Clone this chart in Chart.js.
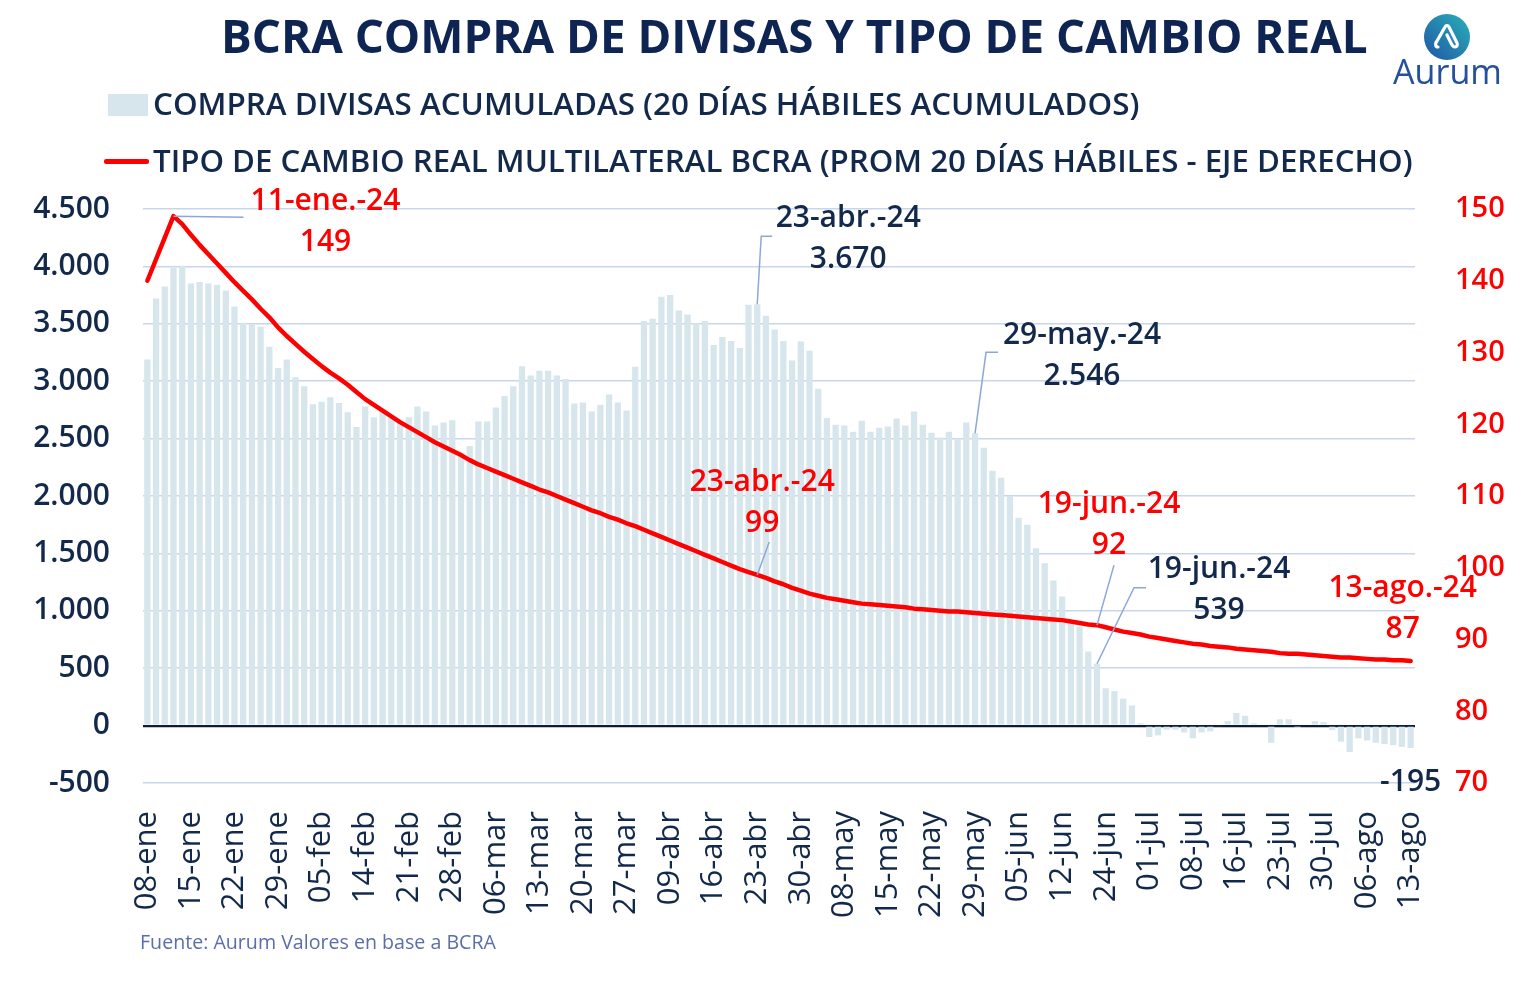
<!DOCTYPE html>
<html><head><meta charset="utf-8">
<script src="https://cdn.jsdelivr.net/npm/chart.js@4.4.1/dist/chart.umd.min.js"></script>
<style>
html,body{margin:0;padding:0;background:#fff;width:1528px;height:998px;overflow:hidden;}
#wrap{position:relative;width:1528px;height:998px;font-family:'Open Sans',sans-serif;}
#c{position:absolute;left:0;top:0;}
.t{position:absolute;white-space:nowrap;line-height:1;}
#title{color:#0e2452;font-weight:700;}
.leg{color:#13294b;font-weight:600;}
#foot{color:#5b6ea8;font-weight:400;}
#sw1{position:absolute;left:108px;top:94px;width:40px;height:22px;background:#d6e6ec;}
#sw2{position:absolute;left:104px;top:159px;width:45px;height:5px;background:#ff0000;border-radius:2px;}
#logoTxt{color:#24509e;font-weight:500;}
#logo{position:absolute;left:1424px;top:14px;}
</style></head>
<body><div id="wrap">
<canvas id="c" width="1528" height="998"></canvas>
<div class="t" id="title">BCRA COMPRA DE DIVISAS Y TIPO DE CAMBIO REAL</div>
<div id="sw1"></div>
<div class="t leg" id="leg1">COMPRA DIVISAS ACUMULADAS (20 DÍAS HÁBILES ACUMULADOS)</div>
<div id="sw2"></div>
<div class="t leg" id="leg2">TIPO DE CAMBIO REAL MULTILATERAL BCRA (PROM 20 DÍAS HÁBILES - EJE DERECHO)</div>
<div class="t" id="foot">Fuente: Aurum Valores en base a BCRA</div>
<svg id="logo" width="46" height="46" viewBox="0 0 46 46">
 <defs><linearGradient id="g" x1="1" y1="0" x2="0" y2="1"><stop offset="0" stop-color="#2bb0b8"/><stop offset="1" stop-color="#1f56a6"/></linearGradient></defs>
 <circle cx="23" cy="23" r="23" fill="url(#g)"/>
 <path d="M14 33 C11 33 11 29 13 27 L21 13 C22 11 24 11 25 13 L33 29 C34 31 33 33 31 33 C29 33 28 31 27 29 L23 21" fill="none" stroke="#fff" stroke-width="3.2" stroke-linecap="round" stroke-linejoin="round"/>
</svg>
<div class="t" id="logoTxt">Aurum</div>
</div>
<script>
// ---------------- DATA ----------------
const categories = [
'08-ene','09-ene','10-ene','11-ene','12-ene','15-ene','16-ene','17-ene','18-ene','19-ene',
'22-ene','23-ene','24-ene','25-ene','26-ene','29-ene','30-ene','31-ene','01-feb','02-feb',
'05-feb','06-feb','07-feb','08-feb','09-feb','14-feb','15-feb','16-feb','19-feb','20-feb',
'21-feb','22-feb','23-feb','26-feb','27-feb','28-feb','29-feb','01-mar','04-mar','05-mar',
'06-mar','07-mar','08-mar','11-mar','12-mar','13-mar','14-mar','15-mar','18-mar','19-mar',
'20-mar','21-mar','22-mar','25-mar','26-mar','27-mar','03-abr','04-abr','05-abr','08-abr',
'09-abr','10-abr','11-abr','12-abr','15-abr','16-abr','17-abr','18-abr','19-abr','22-abr',
'23-abr','24-abr','25-abr','26-abr','29-abr','30-abr','02-may','03-may','06-may','07-may',
'08-may','09-may','10-may','13-may','14-may','15-may','16-may','17-may','20-may','21-may',
'22-may','23-may','24-may','27-may','28-may','29-may','30-may','31-may','03-jun','04-jun',
'05-jun','06-jun','07-jun','10-jun','11-jun','12-jun','13-jun','14-jun','18-jun','19-jun',
'24-jun','25-jun','26-jun','27-jun','28-jun','01-jul','02-jul','03-jul','04-jul','05-jul',
'08-jul','10-jul','11-jul','12-jul','15-jul','16-jul','17-jul','18-jul','19-jul','22-jul',
'23-jul','24-jul','25-jul','26-jul','29-jul','30-jul','31-jul','01-ago','02-ago','05-ago',
'06-ago','07-ago','08-ago','09-ago','12-ago','13-ago'];

const tickLabels = ['08-ene','15-ene','22-ene','29-ene','05-feb','14-feb','21-feb','28-feb',
'06-mar','13-mar','20-mar','27-mar','09-abr','16-abr','23-abr','30-abr','08-may','15-may',
'22-may','29-may','05-jun','12-jun','24-jun','01-jul','08-jul','16-jul','23-jul','30-jul',
'06-ago','13-ago'];

const compraDivisas = [
3190,3720,3825,3985,4005,3850,3865,3850,3840,3790,
3650,3510,3495,3475,3300,3115,3190,3035,2955,2800,
2820,2860,2810,2730,2600,2780,2685,2735,2680,2650,
2685,2780,2735,2615,2640,2660,2380,2435,2650,2650,
2770,2870,2955,3130,3050,3090,3090,3050,3020,2805,
2815,2735,2795,2885,2815,2745,3125,3525,3545,3735,
3750,3615,3580,3505,3525,3315,3385,3350,3290,3665,
3670,3570,3450,3350,3180,3345,3265,2935,2680,2620,
2615,2560,2655,2560,2595,2605,2675,2615,2735,2620,
2550,2510,2560,2500,2640,2546,2420,2220,2160,2000,
1810,1750,1545,1415,1265,1125,920,860,645,539,
325,300,235,175,20,-100,-85,-35,-35,-60,
-110,-60,-50,-10,40,110,85,20,10,-150,
55,55,-20,10,40,30,-40,-140,-230,-110,
-130,-150,-160,-170,-185,-195];

const tcrm = [
140,143,146,149,147.9,146.4,145,143.7,142.4,141.1,
139.8,138.6,137.4,136.1,134.9,133.5,132.3,131.2,130.1,129.1,
128.1,127.2,126.4,125.5,124.5,123.5,122.7,121.9,121.1,120.3,
119.6,118.9,118.2,117.5,116.9,116.3,115.7,115.0,114.4,113.9,
113.4,112.9,112.4,111.9,111.4,110.9,110.5,110.0,109.5,109.0,
108.5,108.0,107.6,107.1,106.7,106.2,105.8,105.3,104.8,104.3,
103.8,103.3,102.8,102.3,101.8,101.3,100.8,100.3,99.8,99.4,
99.0,98.6,98.1,97.7,97.2,96.8,96.4,96.1,95.8,95.6,
95.4,95.2,95.0,94.9,94.8,94.7,94.6,94.5,94.3,94.2,
94.1,94.0,93.9,93.9,93.8,93.7,93.6,93.5,93.4,93.3,
93.2,93.1,93.0,92.9,92.8,92.7,92.5,92.3,92.1,92.0,
91.7,91.4,91.1,90.9,90.7,90.4,90.2,90.0,89.8,89.6,
89.4,89.3,89.1,89.0,88.9,88.7,88.6,88.5,88.4,88.3,
88.1,88.0,88.0,87.9,87.8,87.7,87.6,87.5,87.5,87.4,
87.3,87.2,87.2,87.1,87.1,87.0];

const leftTicks = {min:-500, max:4500, step:500};
const rightTicks = {min:70, max:150, step:10};

// annotations: which series/point, text lines
const notes = [
 {ds:1, idx:3,   lines:['11-ene.-24','149'],  red:true,  dx:152, dy:-17, leader:[[0,0],[70,1]]},
 {ds:0, idx:70,  lines:['23-abr.-24','3.670'], red:false, dx:91,  dy:-88, leader:[[0,0],[4,-68],[15,-68]]},
 {ds:0, idx:95,  lines:['29-may.-24','2.546'], red:false, dx:107, dy:-100,leader:[[0,0],[11,-81],[23,-81]]},
 {ds:1, idx:70,  lines:['23-abr.-24','99'],   red:true,  dx:5,   dy:-95, leader:[[0,0],[12,-33]]},
 {ds:1, idx:109, lines:['19-jun.-24','92'],   red:true,  dx:12,  dy:-123,leader:[[0,0],[17,-60]]},
 {ds:0, idx:109, lines:['19-jun.-24','539'],  red:false, dx:122, dy:-97, leader:[[0,0],[37,-76],[49,-76]]},
 {ds:1, idx:145, lines:['13-ago.-24','87'],   red:true,  dx:-8,  dy:-75, leader:null},
 {ds:0, idx:145, lines:['-195'],              red:false, dx:0,   dy:32,  leader:null}
];

// ---------------- STYLE ----------------
const NAVY = '#13294b', RED = '#ff0000', BARC = '#d6e6ec', GRID = '#c8d6ec';
const FONT = "'Open Sans', sans-serif";
const fmt = v => String(Math.abs(v)).replace(/\B(?=(\d{3})+(?!\d))/g, '.');
const fmtNum = v => (v < 0 ? '-' : '') + fmt(v);

const notePlugin = {
  id: 'notes',
  afterDatasetsDraw(chart) {
    const ctx = chart.ctx;
    ctx.save();
    notes.forEach(n => {
      const el = chart.getDatasetMeta(n.ds).data[n.idx];
      const px = el.x, py = el.y;
      if (n.leader) {
        ctx.beginPath();
        ctx.strokeStyle = '#8ea6db';
        ctx.lineWidth = 1.5;
        n.leader.forEach((p, i) => { if (i === 0) ctx.moveTo(px + p[0], py + p[1]); else ctx.lineTo(px + p[0], py + p[1]); });
        ctx.stroke();
      }
      ctx.fillStyle = n.red ? RED : NAVY;
      ctx.font = '600 30px ' + FONT;
      ctx.textAlign = 'center';
      ctx.textBaseline = 'alphabetic';
      n.lines.forEach((t, i) => {
        ctx.fillText(t, px + n.dx, py + n.dy + i * 41 + 11);
      });
    });
    ctx.restore();
  }
};

new Chart(document.getElementById('c'), {
  data: {
    labels: categories,
    datasets: [
      {type:'bar', label:'COMPRA DIVISAS', data: compraDivisas, backgroundColor: BARC,
       yAxisID:'y', barPercentage:0.72, categoryPercentage:1.0, order:2},
      {type:'line', label:'TCRM', data: tcrm, borderColor: RED, borderWidth:4.5,
       pointRadius:0, tension:0, yAxisID:'y1', order:1, borderJoinStyle:'round', borderCapStyle:'round'}
    ]
  },
  options: {
    responsive:false, animation:false, devicePixelRatio:1,
    layout:{padding:{top:209, left:0, right:0, bottom:0}},
    plugins:{legend:{display:false}, title:{display:false}, tooltip:{enabled:false}},
    scales:{
      x:{
        grid:{display:false, drawTicks:false}, border:{display:false},
        ticks:{autoSkip:false, minRotation:90, maxRotation:90, padding:28, color:NAVY,
          font:{family:FONT, size:31, weight:'400'},
          callback:function(v, i){ const l = categories[i]; return tickLabels.includes(l) ? l : ''; }},
        afterFit(s){ s.height = 215; }
      },
      y:{
        position:'left', min:leftTicks.min, max:leftTicks.max,
        grid:{drawTicks:false, color:c => c.tick && c.tick.value === 0 ? '#0b1d3a' : GRID,
              lineWidth:c => c.tick && c.tick.value === 0 ? 2.2 : 1.5},
        border:{display:false},
        ticks:{stepSize:leftTicks.step, padding:33, color:NAVY, font:{family:FONT, size:30, weight:'600'},
          callback:v => fmtNum(v)},
        afterFit(s){ s.width = 143; }
      },
      y1:{
        position:'right', min:rightTicks.min, max:rightTicks.max,
        grid:{display:false, drawTicks:false}, border:{display:false},
        ticks:{stepSize:rightTicks.step, padding:40, color:RED, font:{family:FONT, size:29, weight:'600'}},
        afterFit(s){ s.width = 113; }
      }
    }
  },
  plugins:[notePlugin]
});

// ---------------- HTML TEXT LAYOUT ----------------
function place(id, left, width, capCenterY, size, capRatio) {
  const el = document.getElementById(id);
  el.style.fontSize = size + 'px';
  const w = el.getBoundingClientRect().width;
  const s = size * width / w;
  el.style.fontSize = s + 'px';
  el.style.left = left + 'px';
  el.style.top = (capCenterY - (0.888 - capRatio / 2) * s) + 'px';
}
place('title', 221, 1147, 37, 48, 0.714);
place('leg1', 153, 987, 104, 28, 0.714);
place('leg2', 153, 1260, 162, 28, 0.714);
place('foot', 140, 356, 942, 19, 0.714);
place('logoTxt', 1393, 109, 72, 30, 0.714);
</script>
</body></html>
